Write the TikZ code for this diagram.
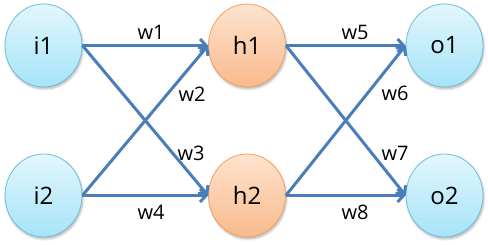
\documentclass[tikz,border=0pt]{standalone}
\usepackage{fontspec}
\setmainfont{Open Sans}
\usetikzlibrary{arrows.meta,shadows.blur,shapes.geometric}
\definecolor{linec}{HTML}{4A7EBB}
\definecolor{bluetop}{HTML}{E3F7FD}
\definecolor{bluebot}{HTML}{A6E3F8}
\definecolor{bluedraw}{HTML}{6CBFD6}
\definecolor{ortop}{HTML}{FDE3CF}
\definecolor{orbot}{HTML}{F9BA8C}
\definecolor{ordraw}{HTML}{F5A05E}
\tikzset{
  neuron/.style={ellipse, minimum width=77pt, minimum height=83pt, inner sep=0pt,
    font=\fontsize{24}{24}\selectfont,
    blur shadow={shadow xshift=1pt, shadow yshift=-2pt, shadow blur steps=6, shadow opacity=30}},
  bluen/.style={neuron, draw=bluedraw, line width=0.8pt, top color=bluetop, bottom color=bluebot},
  orn/.style={neuron, draw=ordraw, line width=0.8pt, top color=ortop, bottom color=orbot},
  conn/.style={draw=linec, line width=3pt, -{Straight Barb[length=6pt,width=13pt,line width=3pt]}},
  wlab/.style={font=\fontsize{20}{20}\selectfont, inner sep=0pt}
}
\begin{document}
\begin{tikzpicture}[x=1pt,y=-1pt]
\useasboundingbox (0,0) rectangle (488,245);
\node[bluen] (i1) at (43.5,45.5) {i1};
\node[bluen] (i2) at (43.5,195.5) {i2};
\node[orn] (h1) at (247,45.5) {h1};
\node[orn] (h2) at (247,195.5) {h2};
\node[bluen] (o1) at (444.5,45.5) {o1};
\node[bluen] (o2) at (444.5,195.5) {o2};
\draw[conn] (i1.east) -- (h1.west);
\draw[conn] (i1.east) -- (h2.west);
\draw[conn] (i2.east) -- (h1.west);
\draw[conn] (i2.east) -- (h2.west);
\draw[conn] (h1.east) -- (o1.west);
\draw[conn] (h1.east) -- (o2.west);
\draw[conn] (h2.east) -- (o1.west);
\draw[conn] (h2.east) -- (o2.west);
\node[wlab] (w1) at (151,32) {w1};
\node[wlab] (w2) at (192,94) {w2};
\node[wlab] (w3) at (191,153) {w3};
\node[wlab] (w4) at (151,212) {w4};
\node[wlab] (w5) at (355,32) {w5};
\node[wlab] (w6) at (395,93) {w6};
\node[wlab] (w7) at (395,153) {w7};
\node[wlab] (w8) at (355,212) {w8};
\end{tikzpicture}
\end{document}
